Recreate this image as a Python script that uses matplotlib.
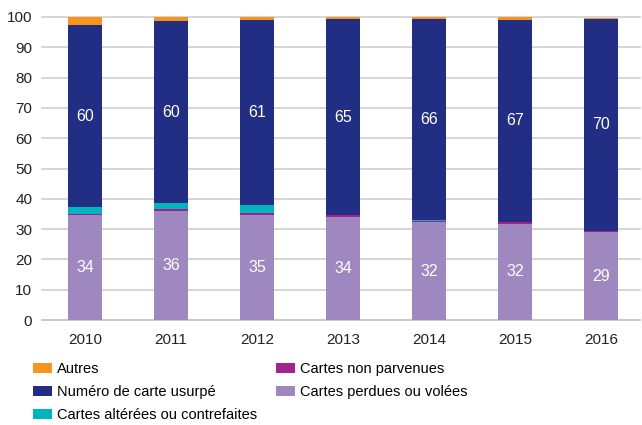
import matplotlib
matplotlib.use("Agg")
import matplotlib.pyplot as plt
import numpy as np

plt.rcParams['font.family'] = ['Liberation Sans', 'DejaVu Sans']

years = ['2010', '2011', '2012', '2013', '2014', '2015', '2016']
perdues = [34.5, 36.0, 34.6, 34.0, 32.3, 31.7, 29.0]
non_parvenues = [0.4, 0.6, 0.7, 0.6, 0.3, 0.7, 0.4]
alterees = [2.4, 2.0, 2.7, 0.0, 0.4, 0.0, 0.0]
usurpe = [60.0, 60.0, 61.0, 64.7, 66.3, 66.6, 70.0]
autres = [2.7, 1.4, 1.0, 0.7, 0.7, 1.0, 0.3]
label_usurpe = [60, 60, 61, 65, 66, 67, 70]
label_perdues = [34, 36, 35, 34, 32, 32, 29]

series = [
    ('Cartes perdues ou volées', perdues, '#9E88BF'),
    ('Cartes non parvenues', non_parvenues, '#A0228E'),
    ('Cartes altérées ou contrefaites', alterees, '#00B5BD'),
    ('Numéro de carte usurpé', usurpe, '#212E83'),
    ('Autres', autres, '#F7941D'),
]

fig = plt.figure(figsize=(6.42, 4.25), dpi=100)
ax = fig.add_axes([0.0654, 0.247, 0.931, 0.713])

x = np.arange(len(years))
bottom = np.zeros(len(years))
handles = {}
for name, vals, color in series:
    b = ax.bar(x, vals, width=0.4, bottom=bottom, color=color, label=name, zorder=3)
    handles[name] = b
    bottom += np.array(vals)

# value labels
for i in range(len(years)):
    ax.text(x[i], perdues[i] / 2, str(label_perdues[i]), ha='center', va='center',
            color='white', fontsize=11.5)
    mid = perdues[i] + non_parvenues[i] + alterees[i] + usurpe[i] / 2
    ax.text(x[i], mid, str(label_usurpe[i]), ha='center', va='center',
            color='white', fontsize=11.5)

ax.set_xlim(-0.5, 6.45)
ax.set_ylim(0, 100)
ax.set_yticks(range(0, 101, 10))
ax.set_xticks(x)
ax.set_xticklabels(years)
ax.yaxis.grid(True, color='#d0d0d0', linewidth=1.2, zorder=0)
for g in ax.get_ygridlines():
    g.set_clip_on(False)
for s in ['top', 'right', 'left']:
    ax.spines[s].set_visible(False)
ax.spines['bottom'].set_color('#c8c8c8')
ax.spines['bottom'].set_linewidth(1.2)
ax.tick_params(axis='both', length=0, labelsize=11, colors='#222222')
ax.tick_params(axis='x', pad=9)
ax.tick_params(axis='y', pad=7)

order = ['Autres', 'Numéro de carte usurpé', 'Cartes altérées ou contrefaites',
         'Cartes non parvenues', 'Cartes perdues ou volées']
fig.legend([handles[n] for n in order], order, ncol=2, loc='upper left',
           bbox_to_anchor=(0.052, 0.148), frameon=False, fontsize=10.5,
           handlelength=1.3, handleheight=0.7, handletextpad=0.35,
           columnspacing=1.25, labelspacing=0.62, borderaxespad=0,
           borderpad=0)

fig.savefig('out.png', dpi=100)
